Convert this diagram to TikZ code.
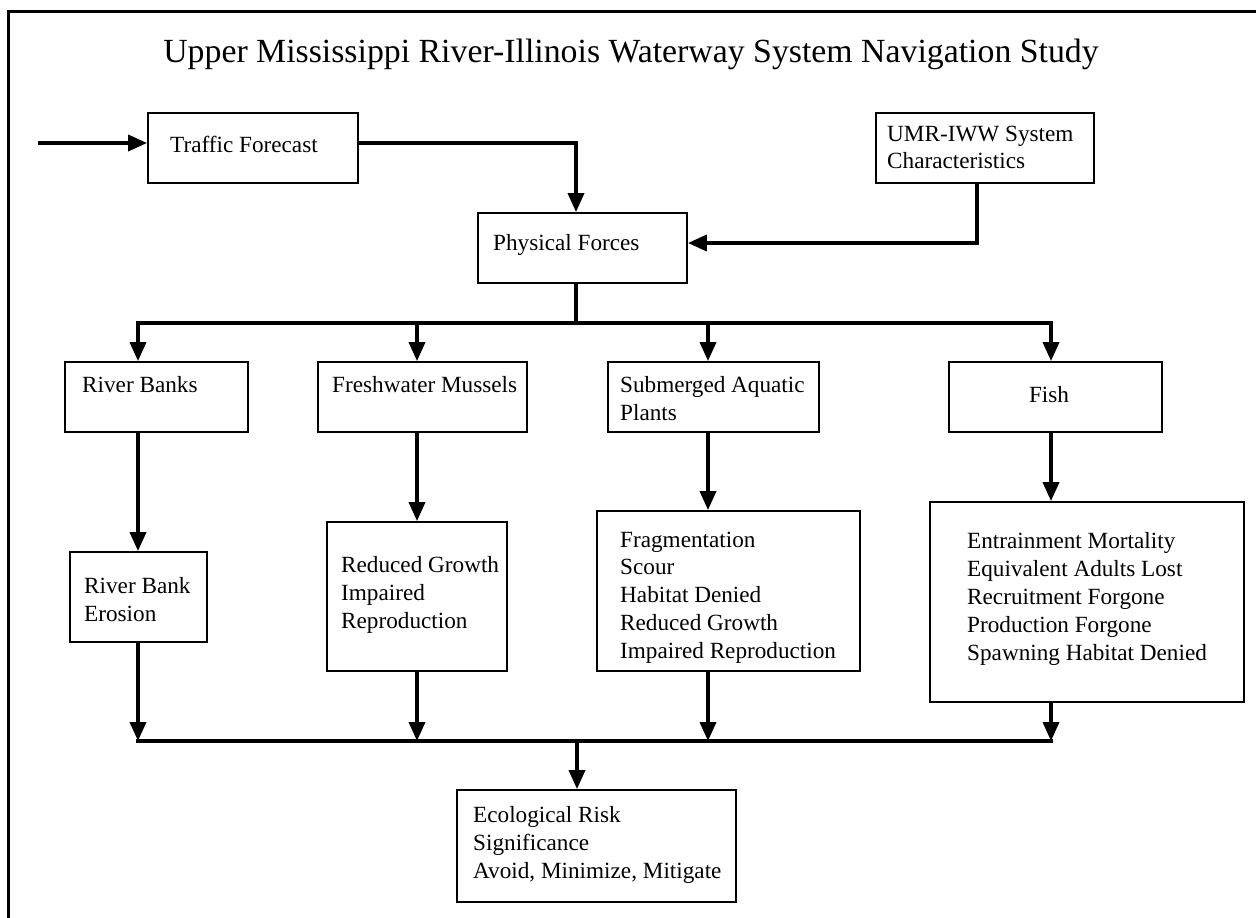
\documentclass[tikz,border=0pt]{standalone}
\usepackage{fontspec}
\setmainfont{Liberation Serif}
\usetikzlibrary{arrows.meta}
\begin{document}
\begin{tikzpicture}[x=1pt,y=-1pt,
  box/.style={draw, line width=1.8pt, inner sep=0pt},
  lbl/.style={anchor=west, align=left, inner sep=0pt,
    font=\fontsize{23.2pt}{27.8pt}\selectfont},
  wire/.style={line width=3.6pt},
  conn/.style={wire, -{Triangle[length=19pt,width=16pt]}}]
\useasboundingbox (0,0) rectangle (1256,918);
% outer frame (left and top edges)
\draw[line width=3.5pt] (8.5,918) -- (8.5,11.5) -- (1256,11.5);
% title
\node[anchor=base, inner sep=0pt, font=\fontsize{33.8pt}{40pt}\selectfont] (title) at (631,62)
  {Upper Mississippi River-Illinois Waterway System Navigation Study};

% boxes
\node[box, minimum width=210, minimum height=70] (tf)    at (253,148) {};
\node[box, minimum width=218, minimum height=70] (umr)   at (985,148) {};
\node[box, minimum width=209, minimum height=70] (pf)    at (582.5,248) {};
\node[box, minimum width=183, minimum height=70] (rb)    at (156.5,397) {};
\node[box, minimum width=209, minimum height=70] (fm)    at (422.5,397) {};
\node[box, minimum width=211, minimum height=70] (sap)   at (713.5,397) {};
\node[box, minimum width=213, minimum height=70] (fish)  at (1055.5,397) {};
\node[box, minimum width=137, minimum height=90] (rbe)   at (138.5,597) {};
\node[box, minimum width=180, minimum height=149] (rg)   at (417,596.5) {};
\node[box, minimum width=263, minimum height=160] (sapl) at (728.5,591) {};
\node[box, minimum width=314, minimum height=200] (fishl) at (1087,602) {};
\node[box, minimum width=279, minimum height=112] (eco)  at (596.5,846) {};

% box texts
\node[lbl] (tf-t)   at (170,144)   {Traffic Forecast};
\node[lbl] (umr-t)  at (887,147.5) {UMR-IWW System\\Characteristics};
\node[lbl] (pf-t)   at (493,245)   {Physical Forces};
\node[lbl] (rb-t)   at (82,385)    {River Banks};
\node[lbl] (fm-t)   at (332,385)   {Freshwater Mussels};
\node[lbl] (sap-t)  at (620,398.5) {Submerged Aquatic\\Plants};
\node[lbl, anchor=center] (fish-t) at (1049,395) {Fish};
\node[lbl] (rbe-t)  at (84,599.5)  {River Bank\\Erosion};
\node[lbl] (rg-t)   at (341,595)   {Reduced Growth\\Impaired\\Reproduction};
\node[lbl] (sapl-t) at (620,597.5) {Fragmentation\\Scour\\Habitat Denied\\Reduced Growth\\Impaired Reproduction};
\node[lbl] (fishl-t) at (967,599)  {Entrainment Mortality\\Equivalent Adults Lost\\Recruitment Forgone\\Production Forgone\\Spawning Habitat Denied};
\node[lbl] (eco-t)  at (473,845)   {Ecological Risk\\Significance\\Avoid, Minimize, Mitigate};

% junction points
\coordinate (inA) at (38,143);
\coordinate (tfc) at (576,143);
\coordinate (uc)  at (977,243);
\coordinate (bt)  at (576,323);
\coordinate (bb)  at (577,741);
\coordinate (c1)  at (138,0);
\coordinate (c2)  at (417,0);
\coordinate (c3)  at (708,0);
\coordinate (c4)  at (1051,0);

% upper connectors
\draw[conn] (inA) -- (inA -| tf.west);
\draw[conn] (tf.east |- tfc) -- (tfc) -- (tfc |- pf.north);
\draw[conn] (uc |- umr.south) -- (uc) -- (uc -| pf.east);

% distribution bus below Physical Forces
\draw[wire] (bt |- pf.south) -- (bt);
\draw[conn] (bt) -- (c1 |- bt) -- (c1 |- rb.north);
\draw[conn] (bt) -- (c4 |- bt) -- (c4 |- fish.north);
\draw[conn] (c2 |- bt) -- (c2 |- fm.north);
\draw[conn] (c3 |- bt) -- (c3 |- sap.north);

% resource to effect
\draw[conn] (c1 |- rb.south) -- (c1 |- rbe.north);
\draw[conn] (c2 |- fm.south) -- (c2 |- rg.north);
\draw[conn] (c3 |- sap.south) -- (c3 |- sapl.north);
\draw[conn] (c4 |- fish.south) -- (c4 |- fishl.north);

% collecting bus into risk assessment
\draw[conn] (c1 |- rbe.south) -- (c1 |- bb);
\draw[conn] (c2 |- rg.south) -- (c2 |- bb);
\draw[conn] (c3 |- sapl.south) -- (c3 |- bb);
\draw[conn] (c4 |- fishl.south) -- (c4 |- bb);
\draw[wire, line cap=rect] (c1 |- bb) -- (c4 |- bb);
\draw[conn] (bb) -- (bb |- eco.north);
\end{tikzpicture}
\end{document}
